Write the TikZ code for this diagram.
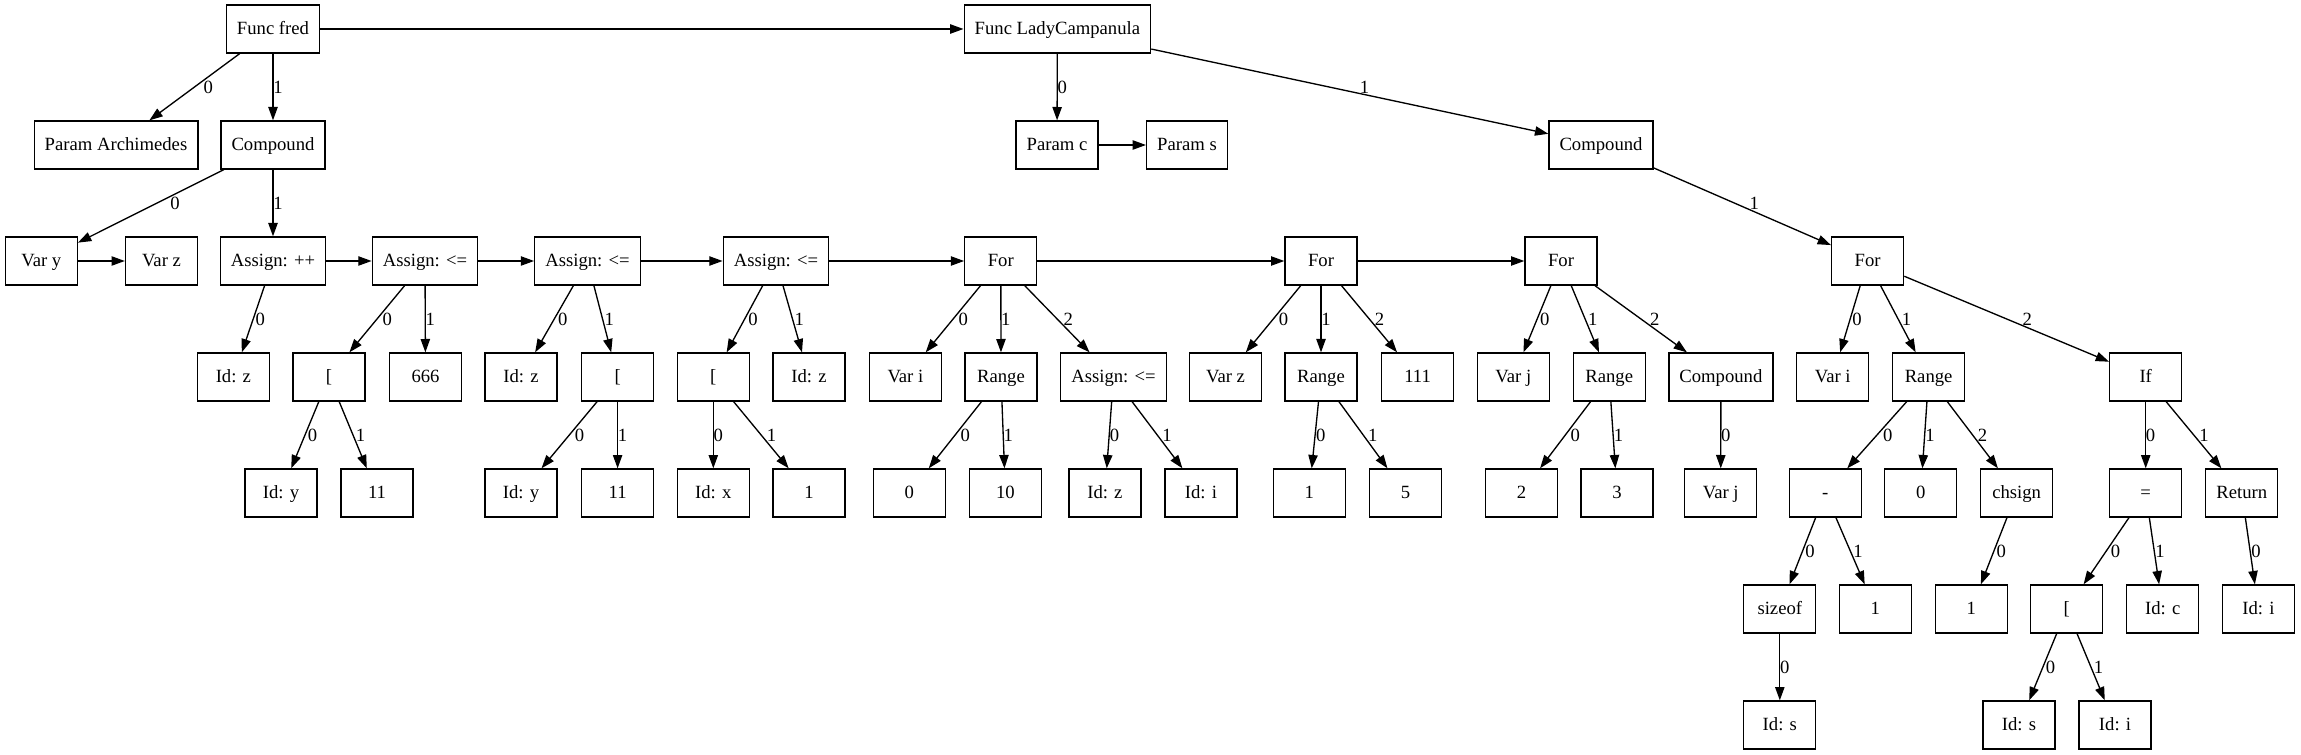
\documentclass[tikz,border=0pt]{standalone}
\usepackage{fontspec}
\setmainfont{Liberation Serif}
\usetikzlibrary{arrows.meta}
\tikzset{
    ast/.style={rectangle, draw=black, line width=1pt, minimum width=54pt, minimum height=36pt, inner xsep=7.92pt, inner ysep=0pt, font=\fontsize{14}{16}\selectfont, text height=9.5pt, text depth=1.5pt},
    arr/.style={-{Triangle[length=10pt, width=7pt]}, line width=1pt},
    elbl/.style={inner sep=0pt, font=\fontsize{14}{16}\selectfont},
    ll/.style={pos=0.444, anchor=north west},
    lr/.style={pos=0.556, anchor=south west}
}
% numbered child edge: arrow node to node, number beside it
\newcommand{\lnk}[4][ll]{\draw[arr] (#2) -- (#3); \path (#2.center) -- (#3.center) node[elbl, #1] {#4};}

\begin{document}
\begin{tikzpicture}[x=0.75pt, y=-0.75pt]
    \path[fill=white, use as bounding box] (0,0) rectangle (2301,755);
    % functions
    \node[ast] (fred) at (273,29) {Func fred};
    \node[ast] (lady) at (1057.4,29) {Func LadyCampanula};
    \node[ast] (arch) at (116,145) {Param Archimedes};
    \node[ast] (cmpA) at (273,145) {Compound};
    \node[ast] (parc) at (1057,145) {Param c};
    \node[ast] (pars) at (1187,145) {Param s};
    \node[ast] (cmpL) at (1601,145) {Compound};
    % statements
    \node[ast] (vary) at (41.3,261) {Var y};
    \node[ast] (varz) at (161.5,261) {Var z};
    \node[ast] (asgA) at (273,261) {Assign: ++};
    \node[ast] (asgB) at (425,261) {Assign: <=};
    \node[ast] (asgC) at (587.5,261) {Assign: <=};
    \node[ast] (asgD) at (776,261) {Assign: <=};
    \node[ast] (forA) at (1000.8,261) {For};
    \node[ast] (forB) at (1321,261) {For};
    \node[ast] (forC) at (1561,261) {For};
    \node[ast] (forL) at (1867.6,261) {For};
    % operands
    \node[ast] (idzA) at (233.4,377) {Id: z};
    \node[ast] (brkB) at (329,377) {[};
    \node[ast] (n666) at (425.5,377) {666};
    \node[ast] (idzC) at (521,377) {Id: z};
    \node[ast] (brkC) at (617.6,377) {[};
    \node[ast] (brkD) at (713.3,377) {[};
    \node[ast] (idzD) at (809,377) {Id: z};
    \node[ast] (variA) at (905.4,377) {Var i};
    \node[ast] (rngA) at (1001,377) {Range};
    \node[ast] (asgE) at (1113.5,377) {Assign: <=};
    \node[ast] (varzB) at (1225.5,377) {Var z};
    \node[ast] (rngB) at (1321,377) {Range};
    \node[ast] (n111) at (1417.6,377) {111};
    \node[ast] (varjC) at (1513.3,377) {Var j};
    \node[ast] (rngC) at (1609.2,377) {Range};
    \node[ast] (cmpC) at (1720.9,377) {Compound};
    \node[ast] (variL) at (1832.7,377) {Var i};
    \node[ast] (rngL) at (1928.6,377) {Range};
    \node[ast] (ifL) at (2145.7,377) {If};
    % leaves
    \node[ast] (idyB) at (281,493) {Id: y};
    \node[ast] (elvB) at (377,493) {11};
    \node[ast] (idyC) at (521,493) {Id: y};
    \node[ast] (elvC) at (617.6,493) {11};
    \node[ast] (idxD) at (713.3,493) {Id: x};
    \node[ast] (oneD) at (809,493) {1};
    \node[ast] (zeroA) at (909.2,493) {0};
    \node[ast] (tenA) at (1005.4,493) {10};
    \node[ast] (idzE) at (1104.9,493) {Id: z};
    \node[ast] (idiE) at (1201,493) {Id: i};
    \node[ast] (oneB) at (1309.2,493) {1};
    \node[ast] (fiveB) at (1405.4,493) {5};
    \node[ast] (twoC) at (1521.4,493) {2};
    \node[ast] (threeC) at (1617,493) {3};
    \node[ast] (varjD) at (1720.7,493) {Var j};
    \node[ast] (minus) at (1825.3,493) {-};
    \node[ast] (zeroL) at (1920.7,493) {0};
    \node[ast] (chsign) at (2016.6,493) {chsign};
    \node[ast] (eq) at (2145.7,493) {=};
    \node[ast] (ret) at (2241.8,493) {Return};
    \node[ast] (sizeof) at (1779.8,609) {sizeof};
    \node[ast] (oneM) at (1875.3,609) {1};
    \node[ast] (oneCh) at (1971.2,609) {1};
    \node[ast] (brkL) at (2066.8,609) {[};
    \node[ast] (idc) at (2162.7,609) {Id: c};
    \node[ast] (idiR) at (2258.4,609) {Id: i};
    \node[ast] (idsS) at (1779.8,725) {Id: s};
    \node[ast] (idsL) at (2019,725) {Id: s};
    \node[ast] (idiL) at (2115,725) {Id: i};
    % sibling order
    \draw[arr] (fred)--(lady); \draw[arr] (parc)--(pars); \draw[arr] (vary)--(varz);
    \draw[arr] (asgA)--(asgB); \draw[arr] (asgB)--(asgC); \draw[arr] (asgC)--(asgD);
    \draw[arr] (asgD)--(forA); \draw[arr] (forA)--(forB); \draw[arr] (forB)--(forC);
    % children
    \lnk{fred}{arch}{0} \lnk{fred}{cmpA}{1}
    \lnk{cmpA}{vary}{0} \lnk{cmpA}{asgA}{1}
    \lnk{asgA}{idzA}{0}
    \lnk{asgB}{brkB}{0} \lnk[lr]{asgB}{n666}{1}
    \lnk{brkB}{idyB}{0} \lnk[lr]{brkB}{elvB}{1}
    \lnk{asgC}{idzC}{0} \lnk[lr]{asgC}{brkC}{1}
    \lnk{brkC}{idyC}{0} \lnk{brkC}{elvC}{1}
    \lnk{asgD}{brkD}{0} \lnk[lr]{asgD}{idzD}{1}
    \lnk{brkD}{idxD}{0} \lnk[lr]{brkD}{oneD}{1}
    \lnk{forA}{variA}{0} \lnk[lr]{forA}{rngA}{1} \lnk[lr]{forA}{asgE}{2}
    \lnk{rngA}{zeroA}{0} \lnk[lr]{rngA}{tenA}{1}
    \lnk{asgE}{idzE}{0} \lnk[lr]{asgE}{idiE}{1}
    \lnk{forB}{varzB}{0} \lnk[lr]{forB}{rngB}{1} \lnk[lr]{forB}{n111}{2}
    \lnk{rngB}{oneB}{0} \lnk[lr]{rngB}{fiveB}{1}
    \lnk{forC}{varjC}{0} \lnk[lr]{forC}{rngC}{1} \lnk[lr]{forC}{cmpC}{2}
    \lnk{rngC}{twoC}{0} \lnk[lr]{rngC}{threeC}{1}
    \lnk{cmpC}{varjD}{0}
    \lnk{lady}{parc}{0} \lnk[lr]{lady}{cmpL}{1}
    \lnk[lr]{cmpL}{forL}{1}
    \lnk{forL}{variL}{0} \lnk[lr]{forL}{rngL}{1} \lnk[lr]{forL}{ifL}{2}
    \lnk{rngL}{minus}{0} \lnk{rngL}{zeroL}{1} \lnk[lr]{rngL}{chsign}{2}
    \lnk{minus}{sizeof}{0} \lnk[lr]{minus}{oneM}{1}
    \lnk{sizeof}{idsS}{0}
    \lnk{chsign}{oneCh}{0}
    \lnk{ifL}{eq}{0} \lnk[lr]{ifL}{ret}{1}
    \lnk{eq}{brkL}{0} \lnk[lr]{eq}{idc}{1}
    \lnk{brkL}{idsL}{0} \lnk[lr]{brkL}{idiL}{1}
    \lnk[lr]{ret}{idiR}{0}
\end{tikzpicture}
\end{document}
